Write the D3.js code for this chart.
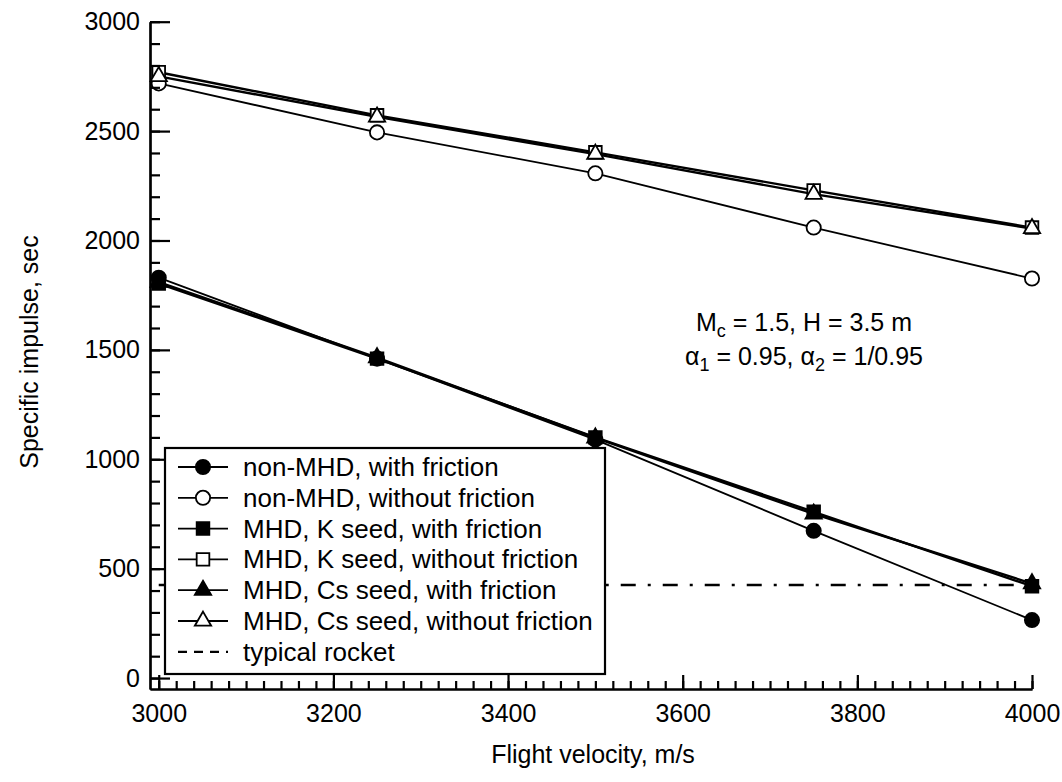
<!DOCTYPE html>
<html>
<head>
<meta charset="utf-8">
<script src="https://cdn.jsdelivr.net/npm/d3@7"></script>
<style>
  body { margin: 0; background: #fff; }
  text { font-family: "Liberation Sans", Arial, Helvetica, sans-serif; fill: #000; }
</style>
</head>
<body>
<svg id="chart" width="1062" height="782"></svg>
<script>
// data
var velocities = [3000, 3250, 3500, 3750, 4000];
var nonMhdFriction   = [1830, 1460, 1090, 673, 265];
var nonMhdNoFriction = [2718, 2494, 2307, 2059, 1826];
var kSeedFriction    = [1803, 1460, 1100, 760, 420];
var kSeedNoFriction  = [2769, 2572, 2403, 2229, 2059];
var csSeedFriction   = [1810, 1465, 1098, 750, 432];
var csSeedNoFriction = [2750, 2565, 2395, 2212, 2055];
var typicalRocket = 425;
var xTicks = [3000, 3200, 3400, 3600, 3800, 4000];
var yTicks = [0, 500, 1000, 1500, 2000, 2500, 3000];
var legendLabels = [
  "non-MHD, with friction",
  "non-MHD, without friction",
  "MHD, K seed, with friction",
  "MHD, K seed, without friction",
  "MHD, Cs seed, with friction",
  "MHD, Cs seed, without friction",
  "typical rocket"
];

var series = [
  {name: legendLabels[0], values: nonMhdFriction,   shape: d3.symbolCircle,   size: 160, filled: true,  width: 1.8},
  {name: legendLabels[1], values: nonMhdNoFriction, shape: d3.symbolCircle,   size: 160, filled: false, width: 1.8},
  {name: legendLabels[2], values: kSeedFriction,    shape: d3.symbolSquare,   size: 160, filled: true,  width: 2.4},
  {name: legendLabels[3], values: kSeedNoFriction,  shape: d3.symbolSquare,   size: 160, filled: false, width: 2.4},
  {name: legendLabels[4], values: csSeedFriction,   shape: d3.symbolTriangle, size: 115, filled: true,  width: 2.4},
  {name: legendLabels[5], values: csSeedNoFriction, shape: d3.symbolTriangle, size: 115, filled: false, width: 2.4}
];

var svg = d3.select("#chart");

var xScale = d3.scaleLinear().domain([2990, 4000]).range([150, 1032]);
var yScale = d3.scaleLinear().domain([-50, 3000]).range([689, 21.7]);

var line = d3.line()
  .x(function(d) { return xScale(d.x); })
  .y(function(d) { return yScale(d.y); });

// typical rocket line (partly hidden by legend)
svg.append("line")
  .attr("x1", xScale(3000)).attr("x2", xScale(4000))
  .attr("y1", yScale(typicalRocket)).attr("y2", yScale(typicalRocket))
  .attr("stroke", "#000")
  .attr("stroke-width", 2.5)
  .attr("stroke-dasharray", "15,12,3,12");

// series lines
series.forEach(function(s) {
  var pts = velocities.map(function(v, i) { return {x: v, y: s.values[i]}; });
  s.pts = pts;
  svg.append("path")
    .datum(pts)
    .attr("fill", "none")
    .attr("stroke", "#000")
    .attr("stroke-width", s.width)
    .attr("d", line);
});

// markers
series.forEach(function(s) {
  svg.selectAll(null)
    .data(s.pts)
    .enter()
    .append("path")
    .attr("d", d3.symbol().type(s.shape).size(s.size))
    .attr("transform", function(d) { return "translate(" + xScale(d.x) + "," + yScale(d.y) + ")"; })
    .attr("fill", s.filled ? "#000" : "#fff")
    .attr("stroke", "#000")
    .attr("stroke-width", 1.8);
});

///////////// AXES (ticks turned inward after drawing)
var noLabel = function() { return ""; };
var yMajor = d3.axisLeft(yScale).tickValues(yTicks).tickSizeInner(20).tickSizeOuter(0).tickPadding(-10).tickFormat(d3.format("d"));
var yMinor = d3.axisLeft(yScale).tickValues(d3.range(0, 3001, 100)).tickSizeInner(10).tickSizeOuter(0).tickFormat(noLabel);
var xMajor = d3.axisBottom(xScale).tickValues(xTicks).tickSizeInner(14).tickSizeOuter(0).tickPadding(1).tickFormat(d3.format("d"));
var xMinor = d3.axisBottom(xScale).tickValues(d3.range(3000, 4001, 20)).tickSizeInner(8).tickSizeOuter(0).tickFormat(noLabel);

function styleAxis(g, dir, len) {
  g.selectAll("path, line").attr("stroke", "#000").attr("stroke-width", 2.2);
  g.selectAll(".tick line").attr(dir, len);
  g.selectAll("text").style("font-size", "25px").attr("fill", "#000");
}

svg.append("g").attr("transform", "translate(150,0)").call(yMinor).call(styleAxis, "x2", 10);
svg.append("g").attr("transform", "translate(150,0)").call(yMajor).call(styleAxis, "x2", 20);
svg.append("g").attr("transform", "translate(0,689)").call(xMinor).call(styleAxis, "y2", -8);
svg.append("g").attr("transform", "translate(0,689)").call(xMajor).call(styleAxis, "y2", -14);

// axis titles
svg.append("text")
  .attr("transform", "translate(38,352) rotate(-90)")
  .attr("text-anchor", "middle")
  .style("font-size", "25px")
  .text("Specific impulse, sec");

svg.append("text")
  .attr("x", 593).attr("y", 763)
  .attr("text-anchor", "middle")
  .style("font-size", "25px")
  .text("Flight velocity, m/s");

///////////// ANNOTATION
var note1 = svg.append("text").attr("x", 804).attr("y", 331).attr("text-anchor", "middle").style("font-size", "25px");
note1.append("tspan").text("M");
note1.append("tspan").attr("dy", 6).style("font-size", "18px").text("c");
note1.append("tspan").attr("dy", -6).text(" = 1.5, H = 3.5 m");

var note2 = svg.append("text").attr("x", 804).attr("y", 365).attr("text-anchor", "middle").style("font-size", "25px");
note2.append("tspan").text("\u03b1");
note2.append("tspan").attr("dy", 6).style("font-size", "18px").text("1");
note2.append("tspan").attr("dy", -6).text(" = 0.95, \u03b1");
note2.append("tspan").attr("dy", 6).style("font-size", "18px").text("2");
note2.append("tspan").attr("dy", -6).text(" = 1/0.95");

///////////// LEGEND
var legend = svg.append("g");
legend.append("rect")
  .attr("x", 165).attr("y", 448)
  .attr("width", 440).attr("height", 226)
  .attr("fill", "#fff")
  .attr("stroke", "#000")
  .attr("stroke-width", 2.2);

var rowY = function(i) { return 467 + i * 30.8; };

legendLabels.forEach(function(label, i) {
  var yy = rowY(i);
  var s = series[i];
  legend.append("line")
    .attr("x1", 178).attr("x2", 228)
    .attr("y1", yy).attr("y2", yy)
    .attr("stroke", "#000")
    .attr("stroke-width", s ? 1.8 : 2.2)
    .attr("stroke-dasharray", s ? null : "9,7");
  if (s) {
    legend.append("path")
      .attr("d", d3.symbol().type(s.shape).size(s.size))
      .attr("transform", "translate(203," + yy + ")")
      .attr("fill", s.filled ? "#000" : "#fff")
      .attr("stroke", "#000")
      .attr("stroke-width", 1.8);
  }
  legend.append("text")
    .attr("x", 243).attr("y", yy + 9)
    .style("font-size", "26px")
    .text(label);
});
</script>
</body>
</html>
